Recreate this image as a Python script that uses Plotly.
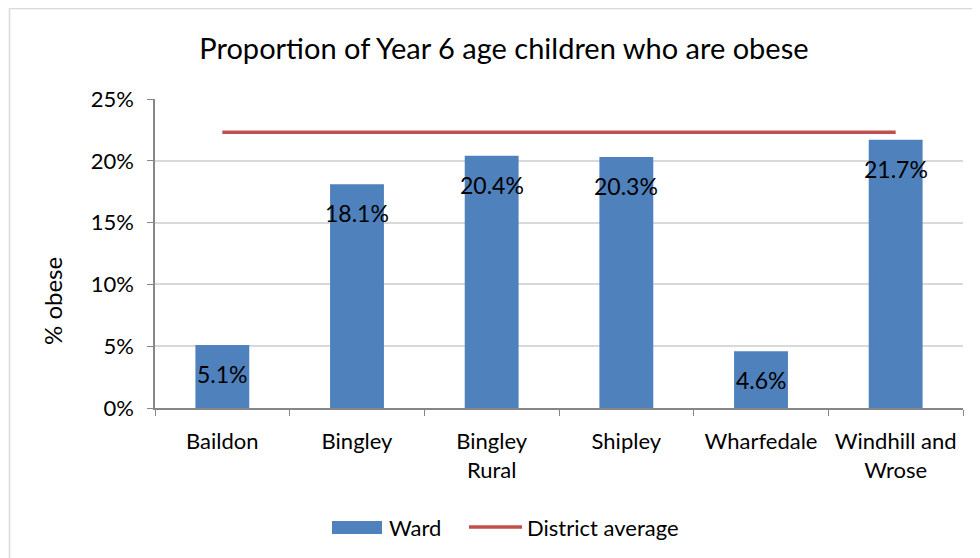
import plotly.graph_objects as go

categories = ["Baildon", "Bingley", "Bingley<br>Rural", "Shipley", "Wharfedale", "Windhill and<br>Wrose"]
ward_values = [5.1, 18.1, 20.4, 20.3, 4.6, 21.7]
district_average = [22.3, 22.3, 22.3, 22.3, 22.3, 22.3]
y_ticks = [0, 5, 10, 15, 20, 25]
y_tick_labels = ["0%", "5%", "10%", "15%", "20%", "25%"]

FONT = "Lato"
OFF = 8  # page body margin
W, H = 980 - OFF, 558 - OFF
PL, PR, PT, PB = 155, 963, 99, 408  # plot area in reference pixels
PW, PH = PR - PL, PB - PT


def px(x):
    return (x - PL) / PW


def py(y):
    return (PB - y) / PH


fig = go.Figure()
fig.add_trace(go.Bar(
    x=categories, y=ward_values, name="Ward",
    marker=dict(color="#4F81BD", line=dict(width=0)),
    width=0.4, showlegend=False,
))
fig.add_trace(go.Scatter(
    x=categories, y=district_average, name="District average",
    mode="lines", line=dict(color="#C0504D", width=3.5), showlegend=False,
))

for c, v in zip(categories, ward_values):
    fig.add_annotation(x=c, y=v, text=f"{v:.1f}%", showarrow=False,
                       yanchor="middle", yshift=-29,
                       font=dict(family=FONT, size=23, color="#000000"))

# chart border (left and top edges)
fig.add_shape(type="line", xref="paper", yref="paper",
              x0=px(9.5), x1=px(985), y0=py(8.5), y1=py(8.5),
              line=dict(color="#D9D9D9", width=1.5))
fig.add_shape(type="line", xref="paper", yref="paper",
              x0=px(9.5), x1=px(9.5), y0=py(8.5), y1=py(565),
              line=dict(color="#D9D9D9", width=1.5))

# manual legend
fig.add_shape(type="rect", xref="paper", yref="paper",
              x0=px(332), x1=px(382), y0=py(521), y1=py(534),
              fillcolor="#4F81BD", line=dict(width=0))
fig.add_annotation(xref="paper", yref="paper", x=px(387), y=py(527),
                   text="Ward", showarrow=False, xanchor="left", yanchor="middle",
                   font=dict(family=FONT, size=22, color="#000000"))
fig.add_shape(type="line", xref="paper", yref="paper",
              x0=px(469), x1=px(522), y0=py(527), y1=py(527),
              line=dict(color="#C0504D", width=3.5))
fig.add_annotation(xref="paper", yref="paper", x=px(525), y=py(527),
                   text="District average", showarrow=False, xanchor="left", yanchor="middle",
                   font=dict(family=FONT, size=22, color="#000000"))

# y-axis title
fig.add_annotation(xref="paper", yref="paper", x=px(52), y=py(301),
                   text="% obese", showarrow=False, textangle=-90,
                   xanchor="center", yanchor="middle",
                   font=dict(family=FONT, size=24, color="#000000"))

fig.update_layout(
    width=W, height=H,
    margin=dict(l=PL - OFF, r=W - (PR - OFF), t=PT - OFF, b=H - (PB - OFF), autoexpand=False),
    paper_bgcolor="white", plot_bgcolor="white",
    title=dict(text="Proportion of Year 6 age children who are obese",
               x=500 / 980, xref="container", xanchor="center",
               y=1 - (49 - OFF) / H, yanchor="middle",
               font=dict(family=FONT, size=29, color="#000000")),
    font=dict(family=FONT, size=22, color="#000000"),
    showlegend=False,
    xaxis=dict(showline=True, linecolor="#868686", linewidth=1.5,
               ticks="outside", ticklen=6, tickcolor="#868686",
               tickson="boundaries", showgrid=False, tickangle=0,
               ticklabelstandoff=13,
               tickfont=dict(family=FONT, size=22, color="#000000")),
    yaxis=dict(range=[0, 25], tickvals=y_ticks, ticktext=y_tick_labels,
               showline=True, linecolor="#868686", linewidth=1.5,
               ticks="outside", ticklen=6, tickcolor="#868686",
               showgrid=True, gridcolor="#D9D9D9", gridwidth=1.5,
               zeroline=False, ticklabelstandoff=9,
               tickfont=dict(family=FONT, size=22, color="#000000")),
)

fig.write_html("out.html")
